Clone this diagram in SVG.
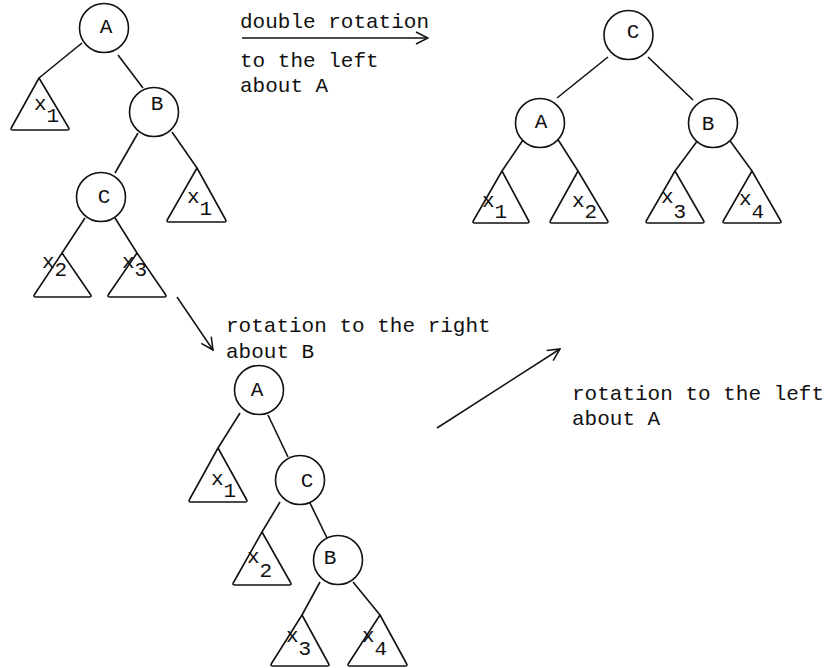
<svg xmlns="http://www.w3.org/2000/svg" width="828" height="668" viewBox="0 0 828 668">
  <style>
    .node { fill: #fff; stroke: #111; stroke-width: 1.6; }
    .tri { fill: #fff; stroke: #111; stroke-width: 1.6; stroke-linejoin: round; }
    .edge { stroke: #111; stroke-width: 1.6; fill: none; }
    .arrow { stroke: #111; stroke-width: 1.5; fill: none; marker-end: url(#vhead); }
    text { font-family: "Liberation Mono", "Courier New", monospace; font-size: 21px; fill: #111; }
    .lbl { text-anchor: middle; }
  </style>
  <defs>
    <marker id="vhead" viewBox="0 0 14 14" markerWidth="14" markerHeight="14" refX="13" refY="7" orient="auto" markerUnits="userSpaceOnUse">
      <path d="M1,1 L13,7 L1,13" fill="none" stroke="#111" stroke-width="1.5"/>
    </marker>
  </defs>
  <rect width="828" height="668" fill="#fff"/>

  <!-- connectors -->
  <g id="connectors">
    <!-- first tree -->
    <line class="edge" x1="82" y1="43" x2="39" y2="78"/>
    <line class="edge" x1="118" y1="55" x2="143" y2="88"/>
    <line class="edge" x1="138" y1="133" x2="115" y2="173"/>
    <line class="edge" x1="172" y1="132" x2="197" y2="168"/>
    <line class="edge" x1="85" y1="218" x2="62" y2="253"/>
    <line class="edge" x1="115" y1="218" x2="137" y2="253"/>
    <!-- result tree -->
    <line class="edge" x1="608" y1="57" x2="557" y2="98"/>
    <line class="edge" x1="648" y1="57" x2="693" y2="100"/>
    <line class="edge" x1="523" y1="140" x2="502" y2="171"/>
    <line class="edge" x1="557" y1="138" x2="578" y2="171"/>
    <line class="edge" x1="698" y1="140" x2="675" y2="171"/>
    <line class="edge" x1="728" y1="138" x2="752" y2="171"/>
    <!-- intermediate tree -->
    <line class="edge" x1="240" y1="413" x2="218" y2="448"/>
    <line class="edge" x1="268" y1="415" x2="288" y2="457"/>
    <line class="edge" x1="280" y1="502" x2="262" y2="532"/>
    <line class="edge" x1="310" y1="503" x2="327" y2="538"/>
    <line class="edge" x1="320" y1="582" x2="302" y2="615"/>
    <line class="edge" x1="353" y1="582" x2="380" y2="615"/>
    <!-- transformation arrows -->
    <line class="arrow" x1="242" y1="38" x2="428" y2="38"/>
    <line class="arrow" x1="177" y1="297" x2="213" y2="350"/>
    <line class="arrow" x1="437" y1="428" x2="560" y2="349"/>
  </g>

  <!-- first tree -->
  <g id="t1-A"><circle class="node" cx="104" cy="28" r="24.5"/><text class="lbl" x="106" y="33">A</text></g>
  <g id="t1-B"><circle class="node" cx="154" cy="112" r="24.5"/><text class="lbl" x="157" y="110">B</text></g>
  <g id="t1-C"><circle class="node" cx="101" cy="197" r="24.5"/><text class="lbl" x="104" y="203">C</text></g>
  <g id="t1-x1a"><path class="tri" d="M39,78 L68.5,127.5 Q70,130 67,130 L13,130 Q10,130 11.5,127.5 Z"/><text x="34" y="110">x<tspan dy="12">1</tspan></text></g>
  <g id="t1-x1b"><path class="tri" d="M197,168 L225.5,219.5 Q227,222 224,222 L169,222 Q166,222 167.5,219.5 Z"/><text x="187" y="203">x<tspan dy="12">1</tspan></text></g>
  <g id="t1-x2"><path class="tri" d="M62,253 L90.5,294.5 Q92,297 89,297 L36,297 Q33,297 34.5,294.5 Z"/><text x="42" y="268">x<tspan dy="8">2</tspan></text></g>
  <g id="t1-x3"><path class="tri" d="M137,253 L165.5,294.5 Q167,297 164,297 L110,297 Q107,297 108.5,294.5 Z"/><text x="122" y="268">x<tspan dy="8">3</tspan></text></g>

  <!-- double rotation label -->
  <g id="label-double">
    <text x="240" y="28">double rotation</text>
    <text x="240" y="67">to the left</text>
    <text x="240" y="92">about A</text>
  </g>

  <!-- result tree -->
  <g id="t3-C"><circle class="node" cx="628.5" cy="35" r="24.5"/><text class="lbl" x="633" y="38">C</text></g>
  <g id="t3-A"><circle class="node" cx="540" cy="123" r="24.5"/><text class="lbl" x="541" y="128">A</text></g>
  <g id="t3-B"><circle class="node" cx="713" cy="123" r="24.5"/><text class="lbl" x="708" y="130">B</text></g>
  <g id="t3-x1"><path class="tri" d="M502,171 L528.5,220.5 Q530,223 527,223 L475,223 Q472,223 473.5,220.5 Z"/><text x="482" y="207">x<tspan dy="11">1</tspan></text></g>
  <g id="t3-x2"><path class="tri" d="M578,171 L607.5,220.5 Q609,223 606,223 L552,223 Q549,223 550.5,220.5 Z"/><text x="572" y="207">x<tspan dy="11">2</tspan></text></g>
  <g id="t3-x3"><path class="tri" d="M675,171 L703.5,220.5 Q705,223 702,223 L648,223 Q645,223 646.5,220.5 Z"/><text x="661" y="203">x<tspan dy="15">3</tspan></text></g>
  <g id="t3-x4"><path class="tri" d="M752,171 L780.5,220.5 Q782,223 779,223 L725,223 Q722,223 723.5,220.5 Z"/><text x="739" y="205">x<tspan dy="13">4</tspan></text></g>

  <!-- right rotation label -->
  <g id="label-right">
    <text x="226" y="332">rotation to the right</text>
    <text x="226" y="358">about B</text>
  </g>

  <!-- intermediate tree -->
  <g id="t2-A"><circle class="node" cx="259" cy="390" r="24.5"/><text class="lbl" x="257" y="396">A</text></g>
  <g id="t2-C"><circle class="node" cx="300" cy="480" r="24.5"/><text class="lbl" x="307" y="487">C</text></g>
  <g id="t2-B"><circle class="node" cx="338" cy="560" r="24.5"/><text class="lbl" x="330" y="564">B</text></g>
  <g id="t2-x1"><path class="tri" d="M218,448 L246.5,499.5 Q248,502 245,502 L191,502 Q188,502 189.5,499.5 Z"/><text x="211" y="485">x<tspan dy="12">1</tspan></text></g>
  <g id="t2-x2"><path class="tri" d="M262,532 L290.5,582.5 Q292,585 289,585 L235,585 Q232,585 233.5,582.5 Z"/><text x="247" y="563">x<tspan dy="14">2</tspan></text></g>
  <g id="t2-x3"><path class="tri" d="M302,615 L328.5,663.5 Q330,666 327,666 L273,666 Q270,666 271.5,663.5 Z"/><text x="286" y="642">x<tspan dy="13">3</tspan></text></g>
  <g id="t2-x4"><path class="tri" d="M380,615 L406.5,663.5 Q408,666 405,666 L350,666 Q347,666 348.5,663.5 Z"/><text x="362" y="642">x<tspan dy="13">4</tspan></text></g>

  <!-- left rotation label -->
  <g id="label-left">
    <text x="572" y="400">rotation to the left</text>
    <text x="572" y="425">about A</text>
  </g>
</svg>
